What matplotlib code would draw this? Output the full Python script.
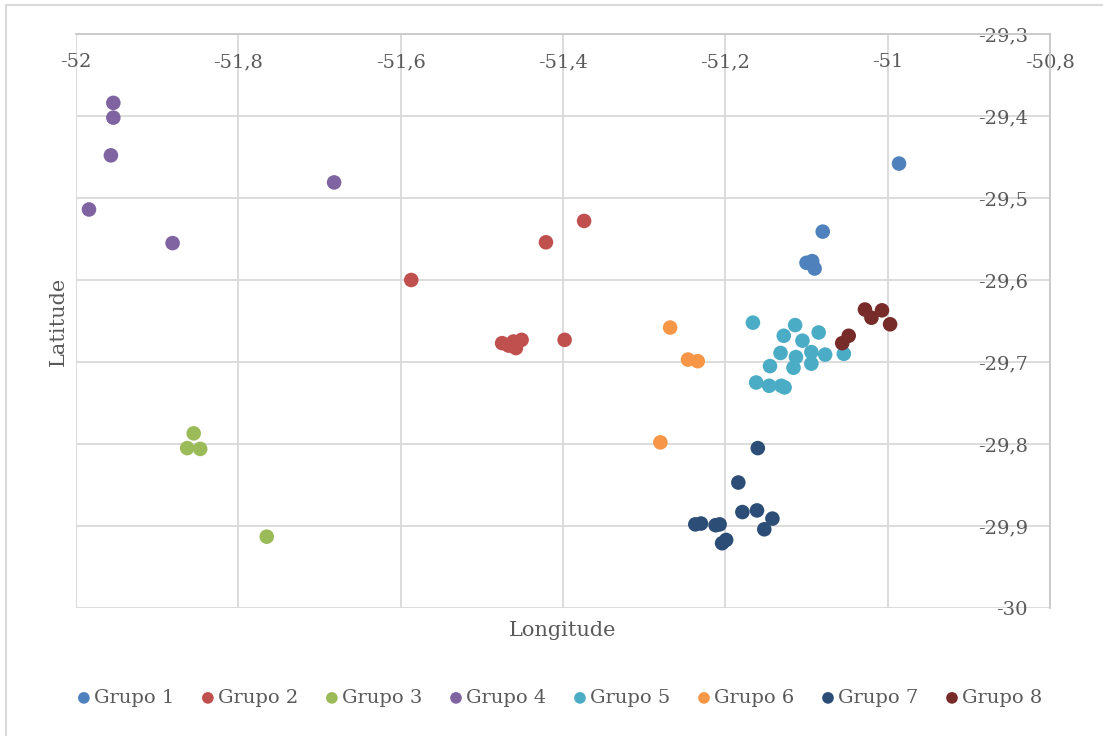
import matplotlib
matplotlib.use("Agg")
import matplotlib.pyplot as plt
from matplotlib.patches import Rectangle
from matplotlib.ticker import FixedLocator, FuncFormatter

groups = ["Grupo 1", "Grupo 2", "Grupo 3", "Grupo 4", "Grupo 5", "Grupo 6", "Grupo 7", "Grupo 8"]
colors = ["#4F81BD", "#C0504D", "#9BBB59", "#8064A2", "#4BACC6", "#F79646", "#2C4D75", "#772C2A"]

g1_lon = [-50.986, -51.080, -51.100, -51.093, -51.090]
g1_lat = [-29.458, -29.541, -29.579, -29.577, -29.586]

g2_lon = [-51.374, -51.421, -51.398, -51.587, -51.475, -51.467, -51.458, -51.461, -51.451]
g2_lat = [-29.528, -29.554, -29.673, -29.600, -29.677, -29.680, -29.683, -29.675, -29.673]

g3_lon = [-51.855, -51.863, -51.847, -51.765]
g3_lat = [-29.787, -29.805, -29.806, -29.913]

g4_lon = [-51.954, -51.954, -51.957, -51.984, -51.881, -51.682]
g4_lat = [-29.384, -29.402, -29.448, -29.514, -29.555, -29.481]

g5_lon = [-51.166, -51.114, -51.085, -51.128, -51.105, -51.132, -51.113, -51.094, -51.077,
          -51.054, -51.094, -51.116, -51.145, -51.162, -51.146, -51.131, -51.127]
g5_lat = [-29.652, -29.655, -29.664, -29.668, -29.674, -29.689, -29.694, -29.688, -29.691,
          -29.690, -29.702, -29.707, -29.705, -29.725, -29.729, -29.729, -29.731]

g6_lon = [-51.268, -51.246, -51.234, -51.280]
g6_lat = [-29.658, -29.697, -29.699, -29.798]

g7_lon = [-51.160, -51.184, -51.179, -51.161, -51.142, -51.152, -51.237, -51.230, -51.212,
          -51.207, -51.204, -51.199]
g7_lat = [-29.805, -29.847, -29.883, -29.881, -29.891, -29.904, -29.898, -29.897, -29.899,
          -29.898, -29.921, -29.917]

g8_lon = [-51.028, -51.007, -51.020, -50.997, -51.048, -51.056]
g8_lat = [-29.636, -29.637, -29.646, -29.654, -29.668, -29.677]

lons = [g1_lon, g2_lon, g3_lon, g4_lon, g5_lon, g6_lon, g7_lon, g8_lon]
lats = [g1_lat, g2_lat, g3_lat, g4_lat, g5_lat, g6_lat, g7_lat, g8_lat]

x_ticks = [-52, -51.8, -51.6, -51.4, -51.2, -51.0, -50.8]
y_ticks = [-29.3, -29.4, -29.5, -29.6, -29.7, -29.8, -29.9, -30.0]

FONT = "DejaVu Serif"
TXT = "#595959"
GRID = "#D9D9D9"

def fmt(v, pos=None):
    s = ("%.1f" % v).rstrip("0").rstrip(".")
    return s.replace(".", ",")

fig = plt.figure(figsize=(11.03, 7.36), dpi=100)
# chart-area border (only top and left edges fall inside the image)
fig.patches.append(Rectangle((6 / 1103, -0.05), 1.2, (736 - 5) / 736 + 0.05,
                             transform=fig.transFigure, fill=False,
                             edgecolor=GRID, linewidth=1.5))
ax = fig.add_axes([76 / 1103, 1 - 608 / 736, (1050 - 76) / 1103, (608 - 34) / 736])

for lo, la, name, c in zip(lons, lats, groups, colors):
    ax.scatter(lo, la, s=110, color=c, edgecolors="none", label=name, zorder=3)

ax.set_xlim(-52, -50.8)
ax.set_ylim(-30, -29.3)
ax.xaxis.set_major_locator(FixedLocator(x_ticks))
ax.yaxis.set_major_locator(FixedLocator(y_ticks))
ax.xaxis.set_major_formatter(FuncFormatter(fmt))
ax.yaxis.set_major_formatter(FuncFormatter(fmt))
ax.grid(True, color=GRID, linewidth=1.3, zorder=0)
ax.set_axisbelow(True)

for s in ["left", "bottom"]:
    ax.spines[s].set_visible(False)
ax.spines["top"].set_color("#C8C8C8")
ax.spines["right"].set_color("#C8C8C8")
ax.spines["top"].set_linewidth(1.3)
ax.spines["right"].set_linewidth(1.3)

ax.tick_params(axis="x", top=True, labeltop=True, bottom=False, labelbottom=False,
               length=0, pad=-14, labelsize=14, labelcolor=TXT)
ax.tick_params(axis="y", right=True, labelright=True, left=False, labelleft=False,
               length=0, pad=-16, labelsize=14, labelcolor=TXT)
for t in ax.get_xticklabels():
    t.set_verticalalignment("top")
    t.set_fontfamily(FONT)
for t in ax.get_yticklabels():
    t.set_horizontalalignment("right")
    t.set_fontfamily(FONT)

ax.set_xlabel("Longitude", fontsize=15, color=TXT, fontfamily=FONT, labelpad=9)
ax.set_ylabel("Latitude", fontsize=15, color=TXT, fontfamily=FONT, labelpad=6)
ax.xaxis.set_label_position("bottom")
ax.yaxis.set_label_position("left")

leg = fig.legend(loc="center", bbox_to_anchor=(560 / 1103, 1 - 698 / 736), ncol=8, frameon=False,
                 handlelength=0.6, handletextpad=0.2, columnspacing=1.45, markerscale=0.8,
                 borderaxespad=0, borderpad=0,
                 prop={"family": FONT, "size": 14})
for t in leg.get_texts():
    t.set_color(TXT)

fig.savefig("out.png", dpi=100)
